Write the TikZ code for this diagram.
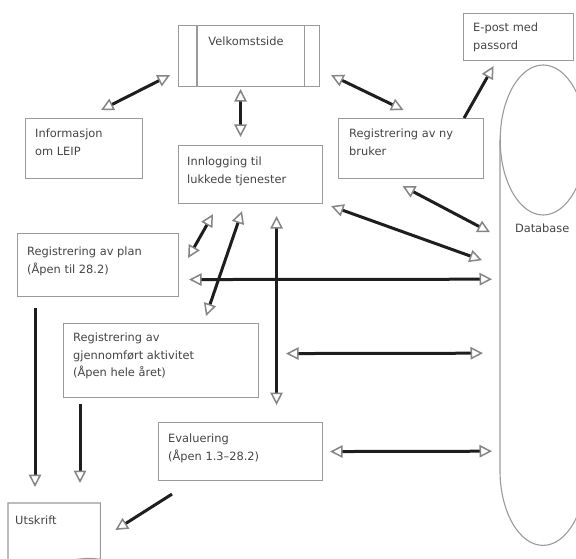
\documentclass[tikz,border=0pt]{standalone}
\usepackage{fontspec}
\setmainfont{DejaVu Sans}
\usetikzlibrary{arrows.meta,calc}
\definecolor{boxgray}{HTML}{9A9A9A}
\definecolor{tipgray}{HTML}{858585}
\definecolor{txtgray}{HTML}{444444}
\definecolor{shaft}{HTML}{1E1E1E}
\begin{document}
\begin{tikzpicture}[x=1pt,y=-1pt,
  otri/.tip={Triangle[fill=white,color=tipgray,length=12.5pt,width=12.5pt,line width=1.5pt]},
  box/.style={draw=boxgray,line width=1.1pt,inner sep=0pt,anchor=north west},
  ghost/.style={inner sep=0pt,anchor=north west},
  boxline/.style={draw=boxgray,line width=1.1pt},
  txt/.style={anchor=north west,inner sep=0pt,align=left,text=txtgray,
    font=\fontsize{11.4}{17.5}\selectfont},
  one/.style={draw=shaft,line width=3pt,-otri},
  two/.style={draw=shaft,line width=3pt,otri-otri}]
\useasboundingbox (0,0) rectangle (576,559);

% boxes
\node[box,minimum width=141,minimum height=61] (velk) at (178,25) {};
\draw[boxline] ([shift={(19,0)}]velk.north west) -- ([shift={(19,0)}]velk.south west);
\draw[boxline] ([shift={(-16,0)}]velk.north east) -- ([shift={(-16,0)}]velk.south east);
\node[txt,anchor=north] (velkt) at ([shift={(-3,11.8)}]velk.north) {Velkomstside};

\node[box,minimum width=117,minimum height=60] (info) at (25,118) {};
\node[txt] (infot) at ([shift={(10,10.8)}]info.north west) {Informasjon\\om LEIP};

\node[box,minimum width=144,minimum height=58] (innl) at (178,145) {};
\node[txt] (innlt) at ([shift={(9,11.8)}]innl.north west) {Innlogging til\\lukkede tjenester};

\node[box,minimum width=145,minimum height=60] (regny) at (338,118) {};
\node[txt] (regnyt) at ([shift={(11,10.8)}]regny.north west) {Registrering av ny\\bruker};

\node[box,minimum width=110,minimum height=47] (epost) at (463,13) {};
\node[txt] (epostt) at ([shift={(10,9.8)}]epost.north west) {E-post med\\passord};

\node[box,minimum width=161,minimum height=63] (regplan) at (17,233) {};
\node[txt] (regplant) at ([shift={(10,13.8)}]regplan.north west) {Registrering av plan\\(Åpen til 28.2)};

\node[box,minimum width=195,minimum height=74] (reggj) at (63,323) {};
\node[txt] (reggjt) at ([shift={(10,9.8)}]reggj.north west) {Registrering av\\gjennomført aktivitet\\(Åpen hele året)};

\node[box,minimum width=164,minimum height=58] (eval) at (158,422) {};
\node[txt] (evalt) at ([shift={(10,11.8)}]eval.north west) {Evaluering\\(Åpen 1.3–28.2)};

% Utskrift (document shape)
\node[ghost,minimum width=92,minimum height=60] (utskr) at (8,503) {};
\draw[boxline] ([shift={(0,8)}]utskr.south west) -- (utskr.north west) -- (utskr.north east)
  -- ([shift={(0,-4)}]utskr.south east)
  .. controls ([shift={(-30,-10)}]utskr.south east) and ([shift={(30,12)}]utskr.south west) .. ([shift={(0,8)}]utskr.south west);
\node[txt] (utskrt) at ([shift={(7,12.8)}]utskr.north west) {Utskrift};

% Database (cylinder)
\node[ghost,minimum width=86,minimum height=480] (db) at (500,65) {};
\draw[boxline] ([shift={(0,75)}]db.north) ellipse [x radius=43,y radius=75];
\draw[boxline] ([shift={(0,75)}]db.north west) -- ([shift={(0,-75)}]db.south west)
  arc [start angle=180,end angle=0,x radius=43,y radius=75]
  -- ([shift={(0,75)}]db.north east);
\node[txt,anchor=center] (dbt) at ([shift={(-1,163)}]db.north) {Database};

% connectors
\draw[two] ([shift={(-42,-8)}]info.north east) -- ([shift={(-8,-12)}]velk.south west);
\draw[two] ([shift={(-8.5,2)}]velk.south) -- ([shift={(-10,-8)}]innl.north);
\draw[two] ([shift={(11,-12)}]velk.south east) -- ([shift={(-7.5,-8)}]regny.north);
\draw[one] ([shift={(-20,0)}]regny.north east) -- ([shift={(-25,5)}]epost.south);
\draw[two] ([shift={(-8.5,7)}]regny.south) -- ([shift={(-10,-73)}]db.west);
\draw[two] ([shift={(8,2)}]innl.south east) -- ([shift={(-18,-45)}]db.west);
\draw[two] ([shift={(10,14.5)}]regplan.east) -- ([shift={(-8,-26)}]db.west);
\draw[two] ([shift={(35,10)}]innl.south west) -- ([shift={(9,25)}]regplan.north east);
\draw[two] ([shift={(64,7)}]innl.south west) -- ([shift={(143,-7)}]reggj.north west);
\draw[two] ([shift={(26,12)}]innl.south) -- ([shift={(36,-17)}]eval.north);
\draw[two] ([shift={(27,-7)}]reggj.east) -- ([shift={(-17,48)}]db.west);
\draw[two] ([shift={(7,0)}]eval.east) -- ([shift={(-8,146)}]db.west);
\draw[one] ([shift={(18,11)}]regplan.south west) -- ([shift={(27,-16)}]utskr.north west);
\draw[one] ([shift={(17,6)}]reggj.south west) -- ([shift={(72,-20)}]utskr.north west);
\draw[one] ([shift={(14,13)}]eval.south west) -- ([shift={(15,27)}]utskr.north east);
\end{tikzpicture}
\end{document}
